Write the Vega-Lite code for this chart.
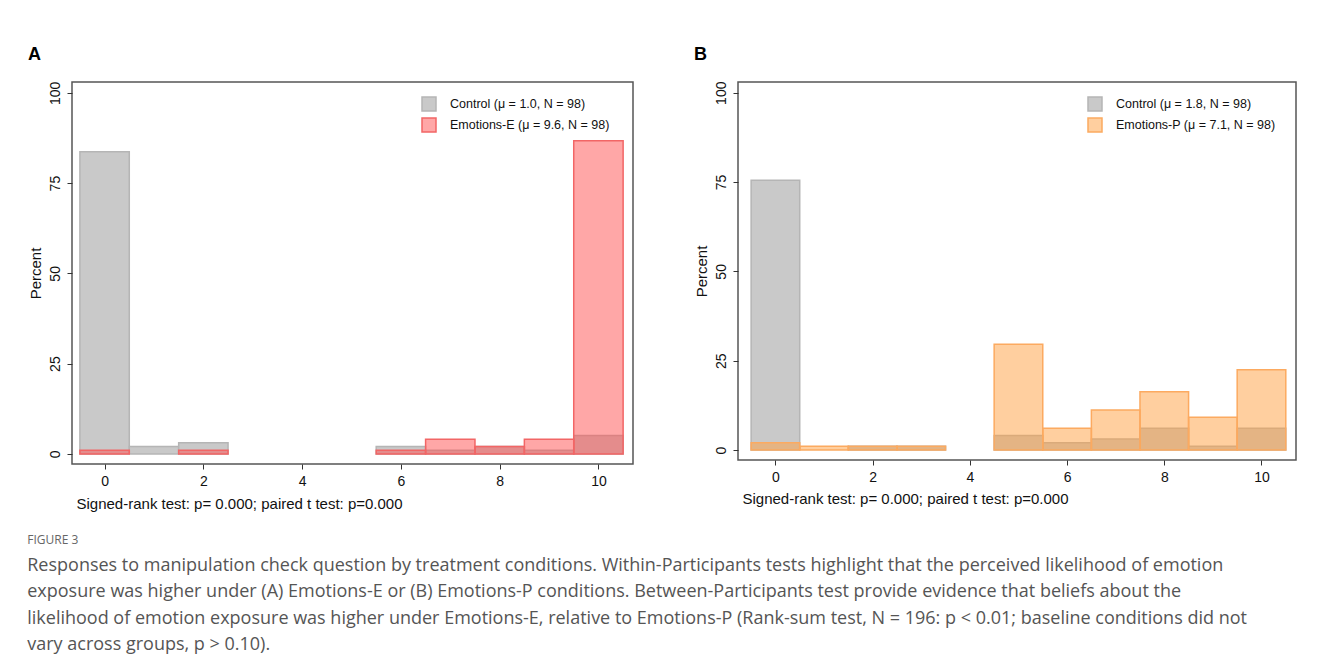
{
  "$schema": "https://vega.github.io/schema/vega-lite/v6.json",
  "background": "white",
  "padding": {"left": 27, "top": 45, "right": 10, "bottom": 5},
  "data": {
    "values": [
      {"panel": "A", "group": "Control (μ = 1.0, N = 98)", "bin_start": -0.5, "bin_end": 0.5, "percent": 83.67},
      {"panel": "A", "group": "Control (μ = 1.0, N = 98)", "bin_start": 0.5, "bin_end": 1.5, "percent": 2.04},
      {"panel": "A", "group": "Control (μ = 1.0, N = 98)", "bin_start": 1.5, "bin_end": 2.5, "percent": 3.06},
      {"panel": "A", "group": "Control (μ = 1.0, N = 98)", "bin_start": 5.5, "bin_end": 6.5, "percent": 2.04},
      {"panel": "A", "group": "Control (μ = 1.0, N = 98)", "bin_start": 6.5, "bin_end": 7.5, "percent": 1.02},
      {"panel": "A", "group": "Control (μ = 1.0, N = 98)", "bin_start": 7.5, "bin_end": 8.5, "percent": 2.04},
      {"panel": "A", "group": "Control (μ = 1.0, N = 98)", "bin_start": 8.5, "bin_end": 9.5, "percent": 1.02},
      {"panel": "A", "group": "Control (μ = 1.0, N = 98)", "bin_start": 9.5, "bin_end": 10.5, "percent": 5.1},
      {"panel": "A", "group": "Emotions-E (μ = 9.6, N = 98)", "bin_start": -0.5, "bin_end": 0.5, "percent": 1.02},
      {"panel": "A", "group": "Emotions-E (μ = 9.6, N = 98)", "bin_start": 1.5, "bin_end": 2.5, "percent": 1.02},
      {"panel": "A", "group": "Emotions-E (μ = 9.6, N = 98)", "bin_start": 5.5, "bin_end": 6.5, "percent": 1.02},
      {"panel": "A", "group": "Emotions-E (μ = 9.6, N = 98)", "bin_start": 6.5, "bin_end": 7.5, "percent": 4.08},
      {"panel": "A", "group": "Emotions-E (μ = 9.6, N = 98)", "bin_start": 7.5, "bin_end": 8.5, "percent": 2.04},
      {"panel": "A", "group": "Emotions-E (μ = 9.6, N = 98)", "bin_start": 8.5, "bin_end": 9.5, "percent": 4.08},
      {"panel": "A", "group": "Emotions-E (μ = 9.6, N = 98)", "bin_start": 9.5, "bin_end": 10.5, "percent": 86.73},
      {"panel": "B", "group": "Control (μ = 1.8, N = 98)", "bin_start": -0.5, "bin_end": 0.5, "percent": 75.51},
      {"panel": "B", "group": "Control (μ = 1.8, N = 98)", "bin_start": 1.5, "bin_end": 2.5, "percent": 1.02},
      {"panel": "B", "group": "Control (μ = 1.8, N = 98)", "bin_start": 2.5, "bin_end": 3.5, "percent": 1.02},
      {"panel": "B", "group": "Control (μ = 1.8, N = 98)", "bin_start": 4.5, "bin_end": 5.5, "percent": 4.08},
      {"panel": "B", "group": "Control (μ = 1.8, N = 98)", "bin_start": 5.5, "bin_end": 6.5, "percent": 2.04},
      {"panel": "B", "group": "Control (μ = 1.8, N = 98)", "bin_start": 6.5, "bin_end": 7.5, "percent": 3.06},
      {"panel": "B", "group": "Control (μ = 1.8, N = 98)", "bin_start": 7.5, "bin_end": 8.5, "percent": 6.12},
      {"panel": "B", "group": "Control (μ = 1.8, N = 98)", "bin_start": 8.5, "bin_end": 9.5, "percent": 1.02},
      {"panel": "B", "group": "Control (μ = 1.8, N = 98)", "bin_start": 9.5, "bin_end": 10.5, "percent": 6.12},
      {"panel": "B", "group": "Emotions-P (μ = 7.1, N = 98)", "bin_start": -0.5, "bin_end": 0.5, "percent": 2.04},
      {"panel": "B", "group": "Emotions-P (μ = 7.1, N = 98)", "bin_start": 0.5, "bin_end": 1.5, "percent": 1.02},
      {"panel": "B", "group": "Emotions-P (μ = 7.1, N = 98)", "bin_start": 1.5, "bin_end": 2.5, "percent": 1.02},
      {"panel": "B", "group": "Emotions-P (μ = 7.1, N = 98)", "bin_start": 2.5, "bin_end": 3.5, "percent": 1.02},
      {"panel": "B", "group": "Emotions-P (μ = 7.1, N = 98)", "bin_start": 4.5, "bin_end": 5.5, "percent": 29.59},
      {"panel": "B", "group": "Emotions-P (μ = 7.1, N = 98)", "bin_start": 5.5, "bin_end": 6.5, "percent": 6.12},
      {"panel": "B", "group": "Emotions-P (μ = 7.1, N = 98)", "bin_start": 6.5, "bin_end": 7.5, "percent": 11.22},
      {"panel": "B", "group": "Emotions-P (μ = 7.1, N = 98)", "bin_start": 7.5, "bin_end": 8.5, "percent": 16.33},
      {"panel": "B", "group": "Emotions-P (μ = 7.1, N = 98)", "bin_start": 8.5, "bin_end": 9.5, "percent": 9.18},
      {"panel": "B", "group": "Emotions-P (μ = 7.1, N = 98)", "bin_start": 9.5, "bin_end": 10.5, "percent": 22.45}
    ]
  },
  "title": {
    "text": "FIGURE 3",
    "subtitle": [
      "Responses to manipulation check question by treatment conditions. Within-Participants tests highlight that the perceived likelihood of emotion",
      "exposure was higher under (A) Emotions-E or (B) Emotions-P conditions. Between-Participants test provide evidence that beliefs about the",
      "likelihood of emotion exposure was higher under Emotions-E, relative to Emotions-P (Rank-sum test, N = 196: p < 0.01; baseline conditions did not",
      "vary across groups, p > 0.10)."
    ],
    "orient": "bottom",
    "anchor": "start",
    "frame": "bounds",
    "offset": 23,
    "font": "Open Sans",
    "fontSize": 12,
    "fontWeight": "normal",
    "color": "#666666",
    "subtitleFont": "Open Sans",
    "subtitleFontSize": 18,
    "subtitleColor": "#555555",
    "subtitleLineHeight": 26.5,
    "subtitlePadding": 10
  },
  "spacing": 59,
  "resolve": {
    "scale": {"fill": "independent", "stroke": "independent", "fillOpacity": "independent"},
    "legend": {"fill": "independent", "stroke": "independent", "fillOpacity": "independent"}
  },
  "hconcat": [
    {
      "width": 561,
      "height": 382,
      "title": {"text": "A", "anchor": "start", "frame": "bounds", "offset": 17, "font": "Liberation Sans", "fontSize": 18, "fontWeight": "bold", "color": "#000000"},
      "transform": [{"filter": "datum.panel === 'A'"}],
      "mark": {"type": "bar", "strokeWidth": 1.5},
      "encoding": {
        "x": {"field": "bin_start", "type": "quantitative", "scale": {"domain": [-0.66, 10.7], "nice": false, "zero": false},
              "axis": {"values": [0, 2, 4, 6, 8, 10], "title": "Signed-rank test: p= 0.000; paired t test: p=0.000", "titleAnchor": "start", "titleAlign": "left", "titleX": 4, "titlePadding": 8}},
        "x2": {"field": "bin_end"},
        "y": {"field": "percent", "type": "quantitative", "scale": {"domain": [-2.8, 103], "nice": false, "zero": false},
              "axis": {"values": [0, 25, 50, 75, 100], "title": "Percent", "labelAngle": 270, "titlePadding": 5}},
        "y2": {"datum": 0},
        "fill": {"field": "group", "type": "nominal",
                 "scale": {"domain": ["Control (μ = 1.0, N = 98)", "Emotions-E (μ = 9.6, N = 98)"], "range": ["#c9c9c9", "#ff4f4f"]},
                 "legend": {"orient": "none", "legendX": 349, "legendY": 14, "title": null,
                            "encode": {"symbols": {"update": {"fillOpacity": {"signal": "indexof(datum.value, 'Control') === 0 ? 1 : 0.5"}}}}}},
        "fillOpacity": {"field": "group", "type": "nominal",
                 "scale": {"domain": ["Control (μ = 1.0, N = 98)", "Emotions-E (μ = 9.6, N = 98)"], "range": [1, 0.5]},
                 "legend": null},
        "stroke": {"field": "group", "type": "nominal",
                 "scale": {"domain": ["Control (μ = 1.0, N = 98)", "Emotions-E (μ = 9.6, N = 98)"], "range": ["#b5b5b5", "#f26666"]},
                 "legend": {"orient": "none", "legendX": 349, "legendY": 14, "title": null,
                            "encode": {"symbols": {"update": {"fillOpacity": {"signal": "indexof(datum.value, 'Control') === 0 ? 1 : 0.5"}}}}}}
      }
    },
    {
      "width": 558,
      "height": 378,
      "title": {"text": "B", "anchor": "start", "frame": "bounds", "offset": 17, "font": "Liberation Sans", "fontSize": 18, "fontWeight": "bold", "color": "#000000"},
      "transform": [{"filter": "datum.panel === 'B'"}],
      "mark": {"type": "bar", "strokeWidth": 1.5},
      "encoding": {
        "x": {"field": "bin_start", "type": "quantitative", "scale": {"domain": [-0.77, 10.71], "nice": false, "zero": false},
              "axis": {"values": [0, 2, 4, 6, 8, 10], "title": "Signed-rank test: p= 0.000; paired t test: p=0.000", "titleAnchor": "start", "titleAlign": "left", "titleX": 4, "titlePadding": 7}},
        "x2": {"field": "bin_end"},
        "y": {"field": "percent", "type": "quantitative", "scale": {"domain": [-2.8, 103], "nice": false, "zero": false},
              "axis": {"values": [0, 25, 50, 75, 100], "title": "Percent", "labelAngle": 270, "titlePadding": 5}},
        "y2": {"datum": 0},
        "fill": {"field": "group", "type": "nominal",
                 "scale": {"domain": ["Control (μ = 1.8, N = 98)", "Emotions-P (μ = 7.1, N = 98)"], "range": ["#c9c9c9", "#ffa040"]},
                 "legend": {"orient": "none", "legendX": 349, "legendY": 14, "title": null,
                            "encode": {"symbols": {"update": {"fillOpacity": {"signal": "indexof(datum.value, 'Control') === 0 ? 1 : 0.5"}}}}}},
        "fillOpacity": {"field": "group", "type": "nominal",
                 "scale": {"domain": ["Control (μ = 1.8, N = 98)", "Emotions-P (μ = 7.1, N = 98)"], "range": [1, 0.5]},
                 "legend": null},
        "stroke": {"field": "group", "type": "nominal",
                 "scale": {"domain": ["Control (μ = 1.8, N = 98)", "Emotions-P (μ = 7.1, N = 98)"], "range": ["#b5b5b5", "#fcaa60"]},
                 "legend": {"orient": "none", "legendX": 349, "legendY": 14, "title": null,
                            "encode": {"symbols": {"update": {"fillOpacity": {"signal": "indexof(datum.value, 'Control') === 0 ? 1 : 0.5"}}}}}}
      }
    }
  ],
  "config": {
    "view": {"stroke": "#555555", "strokeWidth": 1.5},
    "axis": {"domain": false, "grid": false, "tickColor": "#333333", "tickSize": 5, "tickWidth": 1,
             "labelFont": "Liberation Sans", "labelFontSize": 14, "labelColor": "#111111", "labelPadding": 5,
             "titleFont": "Liberation Sans", "titleFontSize": 15, "titleFontWeight": "normal", "titleColor": "#111111"},
    "legend": {"symbolType": "square", "symbolSize": 196, "symbolStrokeWidth": 1.5, "labelFont": "Liberation Sans",
               "labelFontSize": 12.5, "labelColor": "#111111", "labelOffset": 13, "rowPadding": 1, "padding": 0}
  }
}
